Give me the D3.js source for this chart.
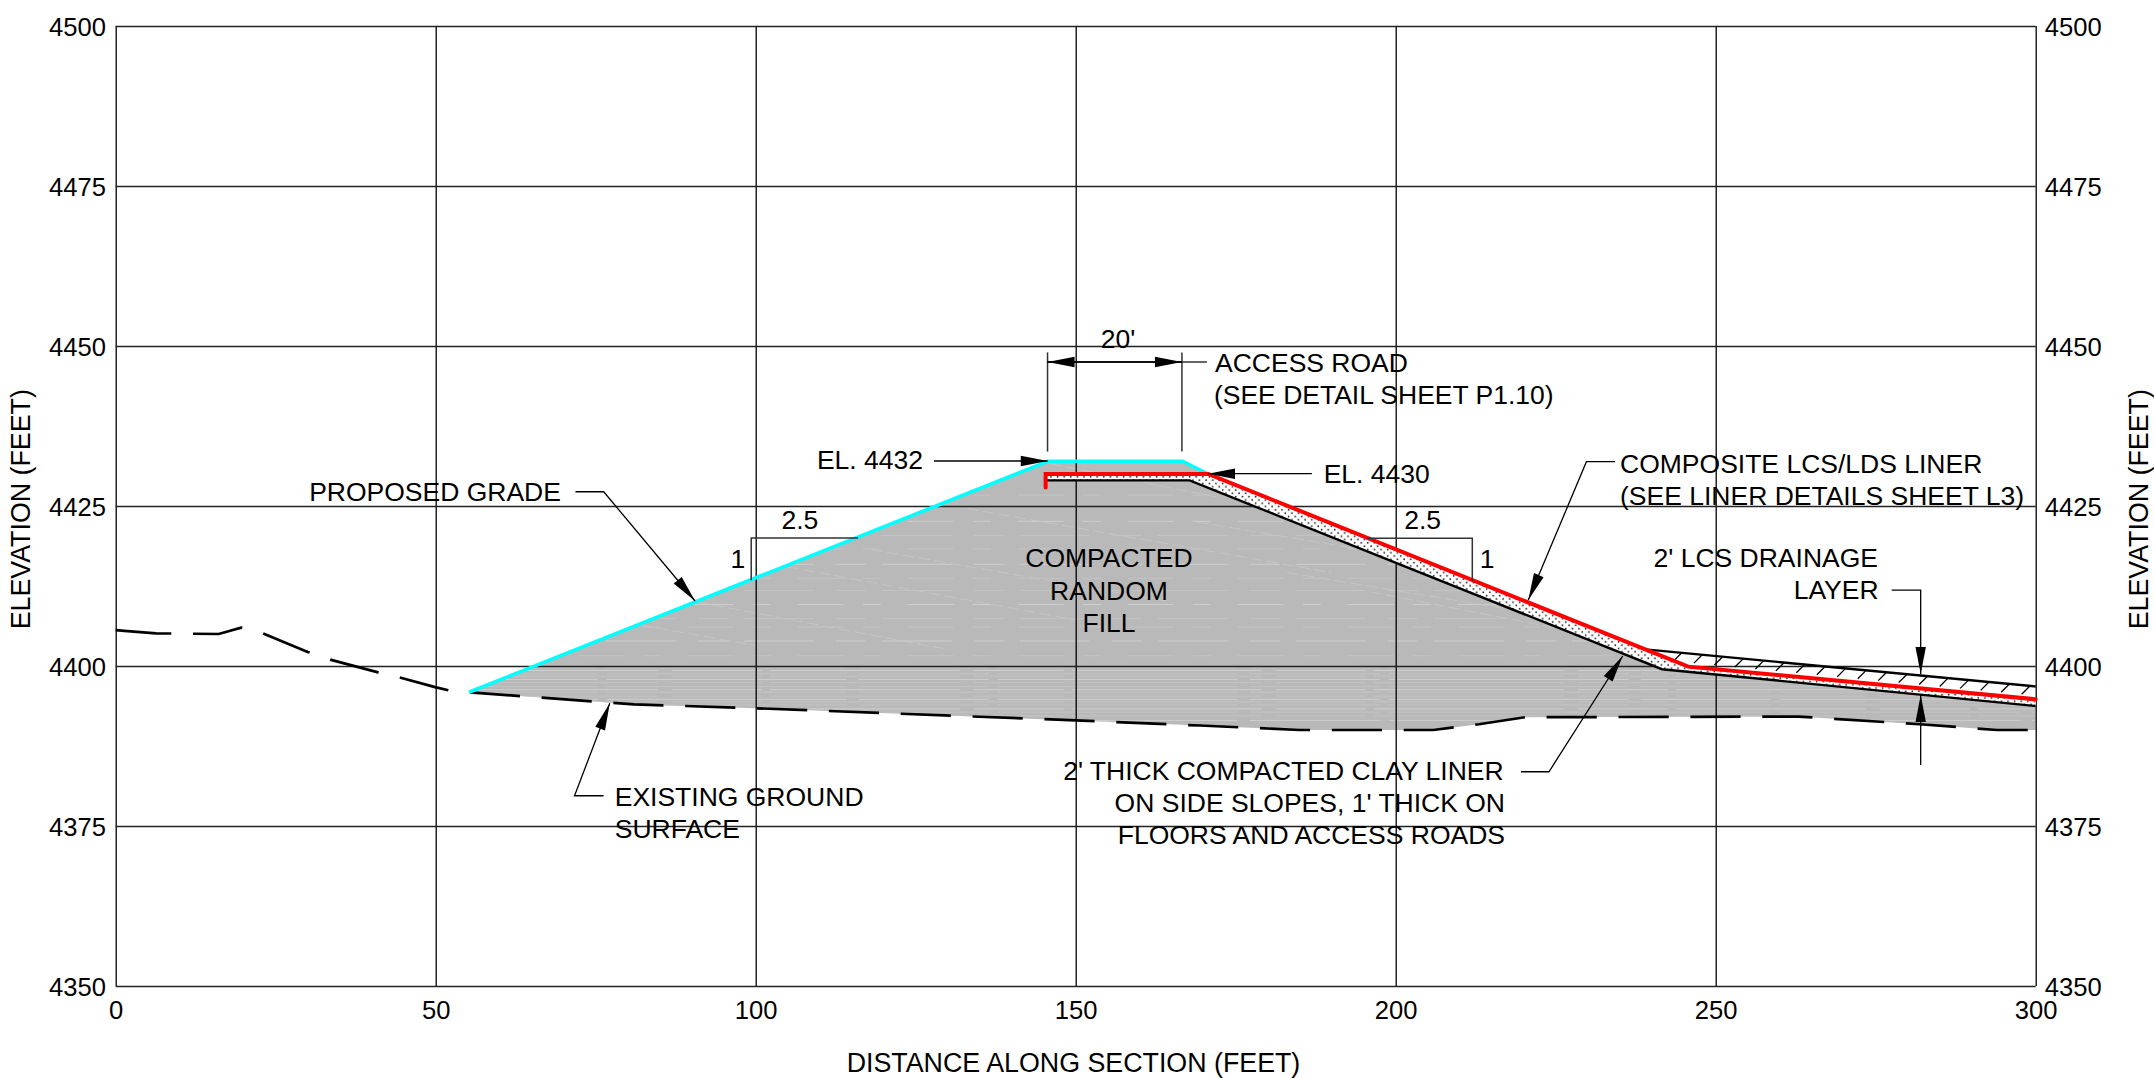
<!DOCTYPE html>
<html>
<head>
<meta charset="utf-8">
<title>Section</title>
<script src="https://d3js.org/d3.v7.min.js"></script>
<style>
body { margin: 0; background: #fff; }
text { font-family: "Liberation Sans", Arial, sans-serif; font-size: 26.5px; fill: #000; }
.title { font-size: 26.8px; }
</style>
</head>
<body>
<div id="chart"></div>
<script>
//Axis ticks
var stationTicks = [0, 50, 100, 150, 200, 250, 300];
var elevationTicks = [4350, 4375, 4400, 4425, 4450, 4475, 4500];

//Surfaces as [distance, elevation]
var existingGround = [[0, 4405.6], [6.3, 4405.1], [16.1, 4405], [19.6, 4406], [23, 4405.1], [30, 4402.2], [33.5, 4401], [41, 4399], [44.4, 4398.2], [49.9, 4396.7], [52, 4396.2], [55.2, 4395.9], [63.2, 4395.3], [81, 4394], [100, 4393.4], [150, 4391.5], [169.4, 4390.7], [185, 4390], [205.9, 4390], [213, 4390.9], [220.2, 4392], [262.9, 4392.1], [281.9, 4390.9], [293.9, 4390], [300, 4390]];
var proposedGrade = [[55.2, 4395.9], [145.7, 4432], [166.7, 4432], [170.7, 4430]];
var linerTop = [[145.3, 4427.9], [145.3, 4430], [170.7, 4430], [245.7, 4399.9], [300, 4394.8]];
var clayBottom = [[145.5, 4429], [167.8, 4429], [241.6, 4399.5], [300, 4393.75]];
var drainageTop = [[239, 4402.6], [300, 4396.8]];

//Light streaks in the fill hatch
var streakLevels = [4391.5, 4392.2, 4392.8, 4393.3, 4393.9, 4394.4, 4394.8, 4395.3, 4395.9, 4396.3, 4396.8, 4397.4, 4397.9, 4398.4, 4398.8, 4399.3, 4399.7, 4401.6, 4403.9, 4406.1, 4407.4, 4409.6, 4411.8, 4413.7, 4415.9, 4418.3, 4420.4, 4422.6, 4424.9, 4426.7];
var slantStreaks = [[82, 4406.4, 100, 4403.2], [90.8, 4410, 130, 4402.6], [100, 4416.4, 150, 4407.2], [118, 4418.2, 165, 4410], [133, 4424.6, 190, 4414.6], [146, 4431.6, 172, 4426.4], [169, 4422.5, 215, 4414.8], [183, 4414.6, 228, 4407.2], [196, 4411.6, 236, 4403.8]];

//Leaders as [distance, elevation] points, the arrow sits on the last one
var leaders = [
    [[71.84, 4427.23], [76.25, 4427.23], [90.52, 4410.16]],
    [[76.23, 4379.73], [71.69, 4379.73], [77.2, 4394.17]],
    [[127.86, 4432.03], [145.63, 4432.03]],
    [[186.9, 4430.05], [170.67, 4430.05]],
    [[234.27, 4431.92], [229.8, 4431.92], [220.72, 4410.31]],
    [[219.58, 4383.48], [223.95, 4383.48], [235.47, 4401.56]],
    [[277.5, 4411.87], [282.03, 4411.87], [282.03, 4398.75]],
    [[282.03, 4384.53], [282.03, 4395.47]],
    [[145.6, 4447.5], [166.6, 4447.5]],
    [[166.6, 4447.5], [145.6, 4447.5]]
];

//Dimension and slope lines
var dimLines = [
    [[145.6, 4449], [145.6, 4433.5]],
    [[166.6, 4449], [166.6, 4433.5]],
    [[166.6, 4447.5], [170.5, 4447.5]],
    [[116, 4420], [99.3, 4420], [99.3, 4413.4]],
    [[195.47, 4419.95], [211.97, 4419.95], [211.97, 4413.28]]
];

//Notes as [text, distance, elevation, anchor]
var notes = [
    ["PROPOSED GRADE", 69.57, 4425.83, "end"],
    ["EL. 4432", 126.14, 4430.78, "end"],
    ["20'", 156.6, 4449.73, "middle"],
    ["ACCESS ROAD", 171.77, 4445.98, "start"],
    ["(SEE DETAIL SHEET P1.10)", 171.6, 4440.94, "start"],
    ["EL. 4430", 188.75, 4428.65, "start"],
    ["COMPOSITE LCS/LDS LINER", 235.05, 4430.2, "start"],
    ["(SEE LINER DETAILS SHEET L3)", 235.05, 4425.16, "start"],
    ["2' LCS DRAINAGE", 275.36, 4415.42, "end"],
    ["LAYER", 275.45, 4410.42, "end"],
    ["2.5", 106.9, 4421.45, "middle"],
    ["1", 97.2, 4415.27, "middle"],
    ["2.5", 204.2, 4421.4, "middle"],
    ["1", 214.27, 4415.27, "middle"],
    ["COMPACTED", 155.2, 4415.47, "middle"],
    ["RANDOM", 155.2, 4410.39, "middle"],
    ["FILL", 155.2, 4405.3, "middle"],
    ["EXISTING GROUND", 77.97, 4378.17, "start"],
    ["SURFACE", 77.97, 4373.17, "start"],
    ["2' THICK COMPACTED CLAY LINER", 216.86, 4382.19, "end"],
    ["ON SIDE SLOPES, 1' THICK ON", 217.08, 4377.14, "end"],
    ["FLOORS AND ACCESS ROADS", 217.08, 4372.14, "end"]
];

//Setting width and height variables
var w = 2154;
var h = 1078;
var left = 115.7, right = 2035.7, top_ = 26, bottom = 986;

var xscale = d3.scaleLinear().domain([0, 300]).range([left, right]);
var yscale = d3.scaleLinear().domain([4350, 4500]).range([bottom, top_]);

var line = d3.line().x(d => xscale(d[0])).y(d => yscale(d[1]));

var svg = d3.select("#chart").append("svg")
    .attr("width", w)
    .attr("height", h)
    .style("display", "block");

var defs = svg.append("defs");

//Stipple for the clay liner
var stipple = defs.append("pattern")
    .attr("id", "stipple")
    .attr("patternUnits", "userSpaceOnUse")
    .attr("width", 6.6)
    .attr("height", 6.6);
stipple.append("rect").attr("width", 6.6).attr("height", 6.6).attr("fill", "#fff");
stipple.append("circle").attr("cx", 1.6).attr("cy", 1.6).attr("r", 0.9).attr("fill", "#222");
stipple.append("circle").attr("cx", 4.9).attr("cy", 4.9).attr("r", 0.9).attr("fill", "#222");

//Fill body, runs along the grade and back on the existing ground
var fillBody = proposedGrade.concat(linerTop.slice(3), existingGround.filter(d => d[0] >= 55.2).reverse());

defs.append("clipPath").attr("id", "fillClip")
    .append("path").attr("d", line(fillBody) + "Z");

svg.append("path")
    .attr("d", line(fillBody) + "Z")
    .attr("fill", "#b9b9b9");

//Streaks, horizontal and slanted
var streaks = svg.append("g").attr("clip-path", "url(#fillClip)");

streaks.selectAll(".level")
    .data(streakLevels)
    .enter()
    .append("line")
    .attr("x1", xscale(55))
    .attr("x2", xscale(300))
    .attr("y1", d => yscale(d))
    .attr("y2", d => yscale(d))
    .attr("stroke", (d, i) => i % 3 == 0 ? "#cfcfcf" : "#c4c4c4")
    .attr("stroke-width", 1)
    .attr("stroke-dasharray", (d, i) => d > 4400 ? (i % 2 ? "46 19 18 27" : "70 22 30 16") : (i % 2 ? "190 14 90 8" : "130 9 240 12"));

streaks.selectAll(".slant")
    .data(slantStreaks)
    .enter()
    .append("line")
    .attr("x1", d => xscale(d[0]))
    .attr("y1", d => yscale(d[1]))
    .attr("x2", d => xscale(d[2]))
    .attr("y2", d => yscale(d[3]))
    .attr("stroke", "#c8c8c8")
    .attr("stroke-width", 0.8)
    .attr("stroke-dasharray", "12 4");

//Grid comes from the axes
var xaxis = d3.axisBottom(xscale).tickValues(stationTicks).tickSize(top_ - bottom).tickFormat(d3.format("d"));
var yaxis = d3.axisLeft(yscale).tickValues(elevationTicks).tickSize(left - right).tickFormat(d3.format("d"));
var yaxis2 = d3.axisRight(yscale).tickValues(elevationTicks).tickSize(0).tickFormat(d3.format("d"));

var gx = svg.append("g").attr("transform", "translate(0," + bottom + ")").call(xaxis);
var gy = svg.append("g").attr("transform", "translate(" + left + ",0)").call(yaxis);
var gy2 = svg.append("g").attr("transform", "translate(" + right + ",0)").call(yaxis2);

svg.selectAll(".domain").remove();
gx.selectAll("line").attr("stroke", "#000").attr("stroke-width", 1.3);
gy.selectAll("line").attr("stroke", "#222").attr("stroke-width", 1.5);

gx.selectAll("text").attr("y", 32.5).attr("dy", 0).style("font-size", "25.6px").style("font-family", "Liberation Sans");
gy.selectAll("text").attr("x", -9.8).attr("dy", 9.7).style("font-size", "25.6px").style("font-family", "Liberation Sans");
gy2.selectAll("text").attr("x", 9).attr("dy", 9.7).style("font-size", "25.6px").style("font-family", "Liberation Sans");

//Axis titles
svg.append("text")
    .attr("class", "title")
    .attr("x", 1073.5)
    .attr("y", 1072)
    .attr("text-anchor", "middle")
    .text("DISTANCE ALONG SECTION (FEET)");

svg.selectAll(".ytitle")
    .data([29.5, 2147.5])
    .enter()
    .append("text")
    .attr("class", "title")
    .attr("transform", d => "translate(" + d + "," + yscale(4424.5) + ") rotate(-90)")
    .attr("text-anchor", "middle")
    .text("ELEVATION (FEET)");

//Clay liner band
svg.append("path")
    .attr("d", line(linerTop.slice(1).concat(clayBottom.slice().reverse())) + "Z")
    .attr("fill", "url(#stipple)");

//Drainage layer hatch, short 45 degree ticks hung off the top of the layer
var drainageAt = d3.scaleLinear().domain(drainageTop.map(d => d[0])).range(drainageTop.map(d => d[1]));

svg.selectAll(".hatch")
    .data(d3.range(244.7, 300, 3.2))
    .enter()
    .append("line")
    .attr("x1", d => xscale(d))
    .attr("y1", d => yscale(drainageAt(d)))
    .attr("x2", d => xscale(d - 1.3))
    .attr("y2", d => yscale(drainageAt(d) - 1.3))
    .attr("stroke", "#000")
    .attr("stroke-width", 1.3);

//Black lines
[clayBottom, drainageTop].forEach(function(d)
{
    svg.append("path")
        .attr("d", line(d))
        .attr("fill", "none")
        .attr("stroke", "#000")
        .attr("stroke-width", 2.4);
});

//Existing ground, the first dash runs a little long so it gets a short piece at the frame
svg.append("path")
    .attr("d", line(existingGround))
    .attr("fill", "none")
    .attr("stroke", "#000")
    .attr("stroke-width", 2.7)
    .attr("stroke-dasharray", "50.2 21.7")
    .attr("stroke-dashoffset", -5.5);

svg.append("path")
    .attr("d", line(existingGround.slice(0, 2)))
    .attr("fill", "none")
    .attr("stroke", "#000")
    .attr("stroke-width", 2.7)
    .attr("stroke-dasharray", "6 100");

//Proposed grade
svg.append("path")
    .attr("d", line(proposedGrade))
    .attr("fill", "none")
    .attr("stroke", "#00ffff")
    .attr("stroke-width", 3.6);

//Liner
svg.append("path")
    .attr("d", line(linerTop))
    .attr("fill", "none")
    .attr("stroke", "#ff0000")
    .attr("stroke-width", 4)
    .attr("stroke-linecap", "round");

//Dimension lines are a bit lighter than the leaders
svg.selectAll(".dim")
    .data(dimLines)
    .enter()
    .append("path")
    .attr("d", d => line(d))
    .attr("fill", "none")
    .attr("stroke", "#333")
    .attr("stroke-width", 1.5);

//Leaders with arrow heads
function arrowHead(from, tip)
{
    var x0 = xscale(from[0]), y0 = yscale(from[1]);
    var x1 = xscale(tip[0]), y1 = yscale(tip[1]);
    var len = Math.hypot(x1 - x0, y1 - y0);
    var ux = (x1 - x0) / len, uy = (y1 - y0) / len;
    var bx = x1 - ux * 27, by = y1 - uy * 27;
    return [[x1, y1], [bx - uy * 5.2, by + ux * 5.2], [bx + uy * 5.2, by - ux * 5.2]].join(" ");
}

leaders.forEach(function(d)
{
    svg.append("path")
        .attr("d", line(d))
        .attr("fill", "none")
        .attr("stroke", "#000")
        .attr("stroke-width", 1.3);

    svg.append("polygon")
        .attr("points", arrowHead(d[d.length - 2], d[d.length - 1]))
        .attr("fill", "#000");
});

//Notes
svg.selectAll(".note")
    .data(notes)
    .enter()
    .append("text")
    .attr("x", d => xscale(d[1]))
    .attr("y", d => yscale(d[2]))
    .attr("text-anchor", d => d[3])
    .text(d => d[0]);
</script>
</body>
</html>
